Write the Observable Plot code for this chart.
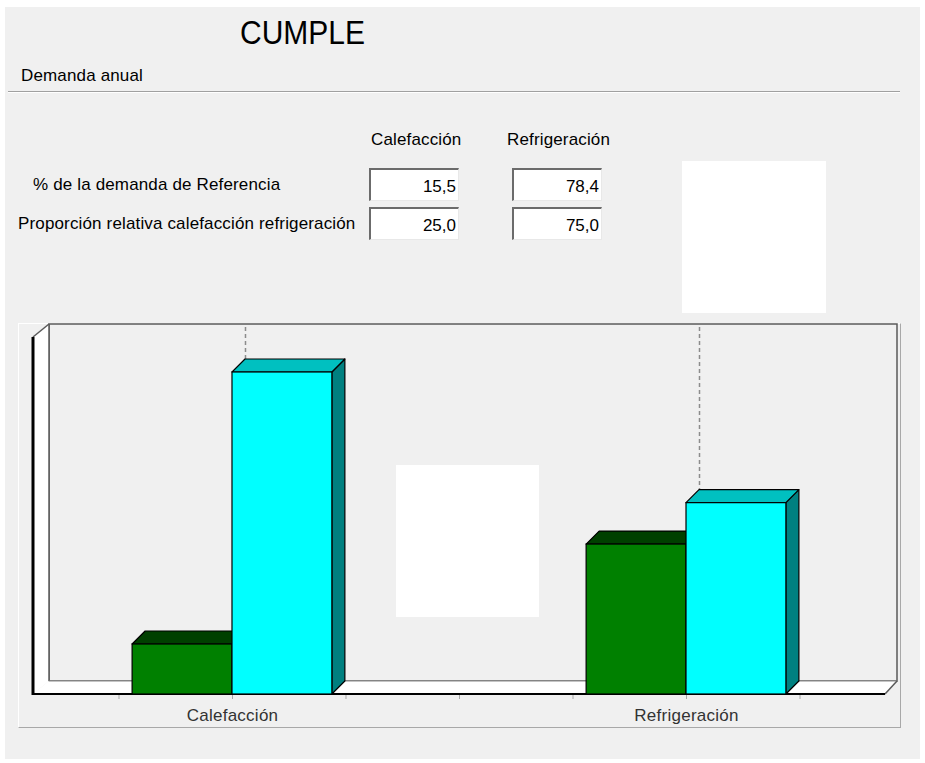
<!DOCTYPE html>
<html>
<head>
<meta charset="utf-8">
<script src="https://cdn.jsdelivr.net/npm/d3@7"></script>
<script src="https://cdn.jsdelivr.net/npm/@observablehq/plot@0.6"></script>
<style>
  html, body { margin: 0; padding: 0; background: #ffffff; }
  #page { position: relative; width: 925px; height: 763px; overflow: hidden; background: #ffffff; font-family: "Liberation Sans", Arial, sans-serif; color: #000; }
  #bg { position: absolute; left: 5px; top: 7px; width: 915px; height: 752px; background: #f0f0f0; }
  .t { position: absolute; white-space: nowrap; font-size: 17px; line-height: 17px; letter-spacing: 0.15px; }
  .box { position: absolute; box-sizing: border-box; width: 90px; height: 33px; background: #fff;
         border-style: solid; border-width: 2px 1px 1px 2px; border-color: #6b6b6b #e8e8e8 #e8e8e8 #6b6b6b;
         font-size: 17px; line-height: 17px; text-align: right; padding: 8px 2px 0 0; }
  .white { position: absolute; background: #fff; }
  #chart { position: absolute; left: 0; top: 316px; }
  #chart g[aria-label="x-axis"] line, #chart g[aria-label="x-axis tick"] path { stroke: #a8a8a8; }
  #chart g[aria-label="x-axis"] path.domain { display: none; }
</style>
</head>
<body>
<div id="page">
  <div id="bg"></div>
  <div id="panel" style="position:absolute;left:18px;top:323px;width:881px;height:403px;border-style:solid;border-width:1px;border-color:#ffffff #a8a8a8 #a8a8a8 #ffffff;"></div>
  <div style="position:absolute;left:8px;top:91px;width:892px;height:0;border-top:1px solid #a0a0a0;border-bottom:1px solid #ffffff;"></div>
  <div id="chart"></div>
</div>
<script>
// ---- data ----
const title = "CUMPLE";
const sectionLabel = "Demanda anual";
const categories = ["Calefacción", "Refrigeración"];
const rowLabels = ["% de la demanda de Referencia", "Proporción relativa calefacción refrigeración"];
const pctReferencia = ["15,5", "78,4"];
const proporcion = ["25,0", "75,0"];
// bar heights (relative units, y scale 0–100)
const objeto = [14.0, 42.0];        // green bars
const referencia = [90.2, 53.6];    // cyan bars
const xTicks = [-0.25, 0, 0.25, 0.5, 0.75, 1, 1.25];

const page = document.getElementById("page");
function addText(txt, left, baseline, extra = {}) {
  const d = document.createElement("div");
  d.className = "t";
  d.textContent = txt;
  const size = extra.size || 17;
  d.style.fontSize = size + "px";
  d.style.lineHeight = size + "px";
  d.style.left = left + "px";
  d.style.top = (baseline - size * 0.847) + "px";
  if (extra.scaleY) { d.style.transformOrigin = `0 ${size * 0.847}px`; d.style.transform = `scaleY(${extra.scaleY})`; d.style.letterSpacing = "0"; }
  if (extra.color) d.style.color = extra.color;
  page.appendChild(d);
  return d;
}
addText(title, 240, 44, {size: 30, scaleY: 1.12});
addText(sectionLabel, 21, 81);
addText(categories[0], 371, 145);
addText(categories[1], 507, 145);
addText(rowLabels[0], 33, 190);
addText(rowLabels[1], 18, 229);
const boxCols = [369, 512];
const boxRows = [168, 207];
[pctReferencia, proporcion].forEach((row, r) => {
  row.forEach((v, c) => {
    const b = document.createElement("div");
    b.className = "box";
    b.style.left = boxCols[c] + "px";
    b.style.top = boxRows[r] + "px";
    b.textContent = v;
    page.appendChild(b);
  });
});

// ---- chart ----
const bars = categories.flatMap((cat, i) => [
  {cat, i, serie: "objeto", value: objeto[i], x1: i - 0.22, x2: i, front: "#008000", top: "#004000", side: "#004000"},
  {cat, i, serie: "referencia", value: referencia[i], x1: i, x2: i + 0.22, front: "#00ffff", top: "#00c0c0", side: "#008080"}
]);
const xDomain = [-0.4383, 1.4383];
const D = 13;

function frameMark(index, {x, y}) {
  const g = d3.create("svg:g");
  const L = x(xDomain[0]), R = x(xDomain[1]);
  const Y0 = y(0), YT = y(100);
  const LB = L + 16, RB = R + 12, YB0 = Y0 - 13, YBT = YT - 13;
  // back wall
  g.append("rect").attr("x", LB).attr("y", YBT).attr("width", RB - LB).attr("height", YB0 - YBT)
    .attr("fill", "#f0f0f0").attr("stroke", "#5a5a5a").attr("stroke-width", 1.5);
  // left wall
  g.append("path").attr("d", `M${L},${YT}L${LB},${YBT}L${LB},${YB0}L${L},${Y0}Z`).attr("fill", "#fff");
  g.append("path").attr("d", `M${L},${YT}L${LB},${YBT}`).attr("stroke", "#5a5a5a").attr("stroke-width", 1.5).attr("fill", "none");
  g.append("path").attr("d", `M${LB},${YBT}L${LB},${YB0}`).attr("stroke", "#5a5a5a").attr("stroke-width", 1.5).attr("fill", "none");
  // floor
  g.append("path").attr("d", `M${L},${Y0}L${R},${Y0}L${RB},${YB0}L${LB},${YB0}Z`).attr("fill", "#fff");
  g.append("path").attr("d", `M${LB},${YB0}L${RB},${YB0}`).attr("stroke", "#8a8a8a").attr("stroke-width", 1).attr("fill", "none");
  g.append("path").attr("d", `M${R},${Y0}L${RB},${YB0}`).attr("stroke", "#5a5a5a").attr("stroke-width", 1.5).attr("fill", "none");
  g.append("path").attr("d", `M${L},${Y0}L${R},${Y0}`).attr("stroke", "#000").attr("stroke-width", 2).attr("fill", "none");
  g.append("path").attr("d", `M${L},${YT}L${L},${Y0 + 1}`).attr("stroke", "#000").attr("stroke-width", 3).attr("fill", "none");
  return g.node();
}

function facesMark(index, {x, y}) {
  const g = d3.create("svg:g").attr("stroke", "#000").attr("stroke-width", 1.2).attr("stroke-linejoin", "round");
  for (const b of bars) {
    const X1 = x(b.x1), X2 = x(b.x2), Y0 = y(0), YH = y(b.value);
    g.append("path").attr("fill", b.side)
      .attr("d", `M${X2},${YH}L${X2 + D},${YH - D}L${X2 + D},${Y0 - D}L${X2},${Y0}Z`);
    g.append("path").attr("fill", b.top)
      .attr("d", `M${X1},${YH}L${X1 + D},${YH - D}L${X2 + D},${YH - D}L${X2},${YH}Z`);
  }
  return g.node();
}

const chart = Plot.plot({
  width: 925,
  height: 424,
  marginLeft: 33,
  marginRight: 40,
  marginTop: 21,
  marginBottom: 46,
  style: {background: "transparent", fontFamily: "'Liberation Sans', Arial, sans-serif", fontSize: "17px", color: "#333", letterSpacing: "0.25px"},
  x: {domain: xDomain, ticks: xTicks, tickFormat: d => Number.isInteger(d) ? categories[d] : "", tickSize: 5, tickPadding: 9, label: null},
  y: {domain: [0, 100], axis: null},
  color: {type: "identity"},
  marks: [
    frameMark,
    Plot.ruleX([0, 1], {x: d => d, y1: 0, y2: 100, dx: D, dy: -D, stroke: "#8c8c8c", strokeWidth: 1.5, strokeDasharray: "4,3"}),
    facesMark,
    Plot.rect(bars, {x1: "x1", x2: "x2", y1: 0, y2: "value", fill: "front", stroke: "#000", strokeWidth: 1.2})
  ]
});
document.getElementById("chart").appendChild(chart);

// white blank areas present in the reference
[[682, 161, 144, 152], [396, 465, 143, 152]].forEach(([l, t, w, h]) => {
  const d = document.createElement("div");
  d.className = "white";
  Object.assign(d.style, {left: l + "px", top: t + "px", width: w + "px", height: h + "px"});
  page.appendChild(d);
});
</script>
</body>
</html>
